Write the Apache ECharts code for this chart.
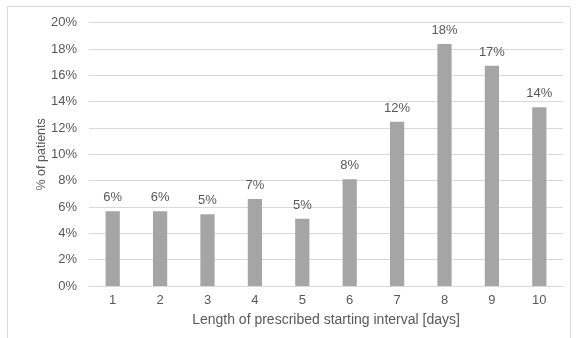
<!DOCTYPE html>
<html><head><meta charset="utf-8">
<script src="https://cdn.jsdelivr.net/npm/echarts@6/dist/echarts.min.js"></script>
<style>html,body{margin:0;padding:0;background:#fff}#c{width:579px;height:338px}</style>
</head><body><div id="c"></div>
<script>
var categories = ['1','2','3','4','5','6','7','8','9','10'];
var values = [5.67, 5.67, 5.45, 6.61, 5.11, 8.1, 12.48, 18.38, 16.73, 13.57];
var yTicks = [0, 2, 4, 6, 8, 10, 12, 14, 16, 18, 20];

var chart = echarts.init(document.getElementById('c'));
var font = 'Liberation Sans';
chart.setOption({
  animation: false,
  textStyle: {fontFamily: font},
  graphic: [{type: 'rect', shape: {x: 7.5, y: 6.5, width: 563, height: 340}, style: {fill: 'none', stroke: '#d9d9d9', lineWidth: 1}}],
  grid: {left: 89, right: 16, top: 22.7, bottom: 52, containLabel: false},
  xAxis: {
    type: 'category', data: categories,
    name: 'Length of prescribed starting interval [days]', nameLocation: 'middle', nameGap: 27,
    nameMoveOverlap: false,
    nameTextStyle: {color: '#595959', fontSize: 14, fontFamily: font},
    axisLine: {lineStyle: {color: '#d9d9d9'}}, axisTick: {show: false},
    axisLabel: {color: '#595959', fontSize: 13, margin: 8}
  },
  yAxis: {
    type: 'value', min: 0, max: 20, interval: 2,
    name: '% of patients', nameLocation: 'middle', nameGap: 41, nameRotate: 90,
    nameMoveOverlap: false,
    nameTextStyle: {color: '#595959', fontSize: 12.5, fontFamily: font},
    axisLabel: {color: '#595959', fontSize: 13, margin: 12, formatter: function(v){return v + '%';}},
    axisLine: {show: false}, axisTick: {show: false},
    splitLine: {lineStyle: {color: '#d9d9d9', width: 1}}
  },
  series: [{
    type: 'bar', data: values, barWidth: '30%',
    itemStyle: {color: '#a5a5a5'},
    label: {show: true, position: 'top', distance: 7, color: '#595959', fontSize: 13,
      formatter: function(p){return Math.round(p.value) + '%';}}
  }]
});
</script></body></html>
